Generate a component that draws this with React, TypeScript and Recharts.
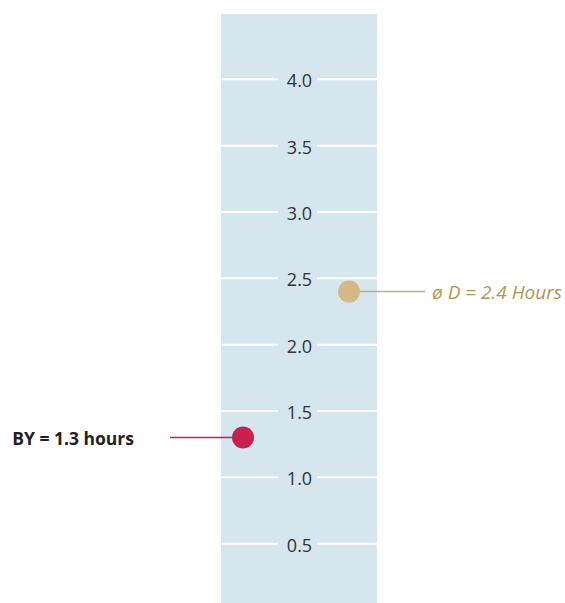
import React from 'react';
import { ScatterChart, Scatter, XAxis, YAxis, CartesianGrid } from 'recharts';

const categories = ['BY', 'ø D'];
const values = [1.3, 2.4];
const labels = ['BY = 1.3 hours', 'ø D = 2.4 Hours'];
const yTicks = [0.5, 1.0, 1.5, 2.0, 2.5, 3.0, 3.5, 4.0];

const data = categories.map((c, i) => ({ idx: i, cat: c, value: values[i], label: labels[i] }));

const W = 565;
const H = 620;
const AXIS_W = 1;
const M = { top: 13, right: 188, bottom: 10, left: 221 - AXIS_W };
const PLOT_LEFT = 221;
const PLOT_W = W - PLOT_LEFT - M.right;
const GAP_CENTER = PLOT_LEFT + PLOT_W / 2 - 1.5;
const TEXT_CENTER = GAP_CENTER + 2;
const BG = '#d5e6ef';
const FONT = '"Open Sans", "Noto Sans", sans-serif';

const renderTick = (props: any) => {
  const { y, payload } = props;
  return (
    <g key={`t-${payload.value}`}>
      <rect x={GAP_CENTER - 19.5} y={y - 3} width={39} height={6} fill={BG} />
      <text x={TEXT_CENTER} y={y + 1} textAnchor="middle" dominantBaseline="central" fontSize={18} fill="#333" fontFamily={FONT}>
        {Number(payload.value).toFixed(1)}
      </text>
    </g>
  );
};

const DotShape = (props: any) => {
  const { cx, cy, payload } = props;
  if (payload.idx === 0) {
    return (
      <g>
        <line x1={cx - 73} y1={cy} x2={cx} y2={cy} stroke="#c8204f" strokeWidth={1.5} />
        <circle cx={cx} cy={cy} r={11} fill="#c8204f" />
        <text x={cx - 109} y={cy} textAnchor="end" dominantBaseline="central" fontSize={17.5} fontWeight="bold" fill="#222" fontFamily={FONT}>
          {payload.label}
        </text>
      </g>
    );
  }
  return (
    <g>
      <line x1={cx} y1={cy} x2={cx + 76} y2={cy} stroke="#c9ad74" strokeWidth={1.5} />
      <circle cx={cx} cy={cy} r={11} fill="#d5b984" />
      <text x={cx + 83} y={cy} textAnchor="start" dominantBaseline="central" fontSize={19} fontStyle="italic" fill="#b39552" fontFamily={FONT}>
        {payload.label}
      </text>
    </g>
  );
};

export default function App() {
  return (
    <div style={{ position: 'absolute', left: 0, top: 0, width: W, height: 603, overflow: 'hidden', background: '#fff' }}>
      <ScatterChart width={W} height={H} margin={M}>
        <CartesianGrid horizontal vertical={false} fill={BG} fillOpacity={1} stroke="#ffffff" strokeWidth={2} />
        <XAxis type="number" dataKey="idx" domain={[-0.2075, 1.264]} hide />
        <YAxis type="number" dataKey="value" domain={[0, 4.5]} ticks={yTicks} width={AXIS_W} axisLine={false} tickLine={false} tick={renderTick} interval={0} />
        <Scatter data={data} isAnimationActive={false} shape={DotShape} />
      </ScatterChart>
    </div>
  );
}
